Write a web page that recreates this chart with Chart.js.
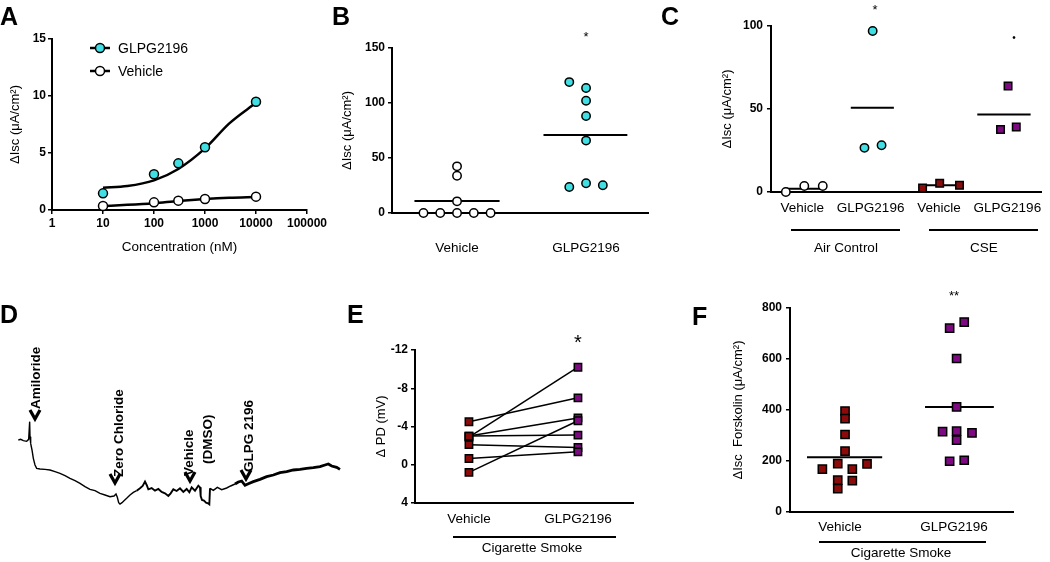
<!DOCTYPE html>
<html><head><meta charset="utf-8">
<script src="https://cdn.jsdelivr.net/npm/chart.js@4.4.1/dist/chart.umd.min.js"></script>
<style>
html,body{margin:0;padding:0;background:#fff;}
body{width:1050px;height:562px;overflow:hidden;position:relative;font-family:"Liberation Sans",Arial,Helvetica,sans-serif;color:#000;}
canvas{position:absolute;left:0;top:0;pointer-events:none;}
.t{position:absolute;white-space:nowrap;line-height:1;}
.c{transform:translate(-50%,-50%);}
.lt{font-weight:bold;font-size:25px;}
.rot{transform-origin:0 0;transform:rotate(-90deg);font-weight:bold;font-size:13.5px;line-height:16px;}
.g{font-size:13.5px;}
svg{position:absolute;left:0;top:0;}
</style></head>
<body>
<canvas id="cA" width="1050" height="562"></canvas>
<canvas id="cB" width="1050" height="562"></canvas>
<canvas id="cC" width="1050" height="562"></canvas>
<canvas id="cD" width="1050" height="562"></canvas>
<canvas id="cE" width="1050" height="562"></canvas>
<canvas id="cF" width="1050" height="562"></canvas>

<svg width="1050" height="562" viewBox="0 0 1050 562">
  <!-- legend A -->
  <line x1="90" y1="48" x2="110" y2="48" stroke="#000" stroke-width="2.5"/>
  <circle cx="100" cy="48" r="4.5" fill="#40dfe3" stroke="#000" stroke-width="1.5"/>
  <line x1="90" y1="71" x2="110" y2="71" stroke="#000" stroke-width="2.5"/>
  <circle cx="100" cy="71" r="4.5" fill="#fff" stroke="#000" stroke-width="1.5"/>
  <!-- chevrons D -->
  <g fill="none" stroke="#000" stroke-width="3.2" stroke-linejoin="miter">
    <path d="M30 410 L35 419 L40 410"/>
    <path d="M110 474 L115 483 L120 474"/>
    <path d="M185 472 L190 481 L195 472"/>
    <path d="M241 470 L246 479 L251 470"/>
  </g>
  <!-- group lines -->
  <g stroke="#000" stroke-width="2">
    <line x1="791" y1="230" x2="900" y2="230"/>
    <line x1="929" y1="230" x2="1038" y2="230"/>
    <line x1="453" y1="537" x2="616" y2="537"/>
    <line x1="819" y1="542" x2="986" y2="542"/>
  </g>
</svg>

<!-- panel letters -->
<div class="t lt" style="left:0px;top:3.5px;">A</div>
<div class="t lt" style="left:332px;top:3.5px;">B</div>
<div class="t lt" style="left:661px;top:3.5px;">C</div>
<div class="t lt" style="left:0px;top:301.5px;">D</div>
<div class="t lt" style="left:347px;top:301.5px;">E</div>
<div class="t lt" style="left:692px;top:304px;">F</div>

<!-- legend A text -->
<div class="t" style="left:118px;top:41px;font-size:14px;">GLPG2196</div>
<div class="t" style="left:118px;top:64px;font-size:14px;">Vehicle</div>

<!-- significance -->
<div class="t c" style="left:586px;top:36px;font-size:13px;">*</div>
<div class="t c" style="left:875px;top:9px;font-size:13px;">*</div>
<div class="t c" style="left:1014px;top:38px;font-size:10px;">•</div>
<div class="t c" style="left:578px;top:342px;font-size:20px;">*</div>
<div class="t c" style="left:954px;top:295px;font-size:13px;">**</div>

<!-- group labels -->
<div class="t c g" style="left:846px;top:248px;">Air Control</div>
<div class="t c g" style="left:984px;top:248px;">CSE</div>
<div class="t c g" style="left:532px;top:548px;">Cigarette Smoke</div>
<div class="t c g" style="left:901px;top:553px;">Cigarette Smoke</div>

<!-- D annotations -->
<div class="t rot" style="left:28px;top:409px;">Amiloride</div>
<div class="t rot" style="left:111px;top:477px;">Zero Chloride</div>
<div class="t rot" style="left:181px;top:476px;">Vehicle</div>
<div class="t rot" style="left:200px;top:464px;">(DMSO)</div>
<div class="t rot" style="left:241px;top:472px;">GLPG 2196</div>

<script>
// ---------- DATA ----------
// Panel A
const concPoints = [10, 100, 300, 1000, 10000];
const glpgA = [1.46, 3.13, 4.09, 5.5, 9.5];
const vehicleA = [0.35, 0.67, 0.82, 0.96, 1.17];
const fitConc = [10, 30, 100, 300, 1000, 3000, 10000];
const fitGlpgA = [1.95, 2.1, 2.6, 3.6, 5.4, 7.6, 9.4];
const fitVehicleA = [0.35, 0.45, 0.6, 0.8, 0.97, 1.08, 1.15];
const xTicksA = [1, 10, 100, 1000, 10000, 100000];
const yTicksA = [0, 5, 10, 15];

// Panel B
const catB = ['Vehicle', 'GLPG2196'];
const vehicleB = [0, 0, 0, 0, 0, 10.6, 33.9, 42.4];
const vehicleBSpread = [-0.26, -0.13, 0, 0.13, 0.26, 0, 0, 0];
const glpgB = [119, 113.6, 102, 88.2, 65.8, 23.6, 27, 25.2];
const glpgBSpread = [-0.13, 0, 0, 0, 0, -0.13, 0, 0.13];
const meansB = [10.9, 70.8];
const yTicksB = [0, 50, 100, 150];

// Panel C
const catC = ['Vehicle', 'GLPG2196', 'Vehicle', 'GLPG2196'];
const airVehicleC = [0, 3.6, 3.6];
const airVehicleCSpread = [-0.24, 0.03, 0.3];
const airGlpgC = [97, 26.6, 28.2];
const airGlpgCSpread = [0.03, -0.09, 0.16];
const cseVehicleC = [2.4, 5.2, 4.0];
const cseVehicleCSpread = [-0.24, 0.01, 0.3];
const cseGlpgC = [63.8, 37.6, 39.2];
const cseGlpgCSpread = [0.01, -0.1, 0.13];
const meansC = [2.0, 50.7, 4.0, 46.7];
const yTicksC = [0, 50, 100];

// Panel D (trace, arbitrary units)
const traceTime = [55,62,70,80,86,89,90,92,96,100,105,110,120,135,150,165,180,195,210,225,240,255,270,285,300,315,330,342,348,352,356,360,366,372,380,390,400,410,420,428,435,440,445,455,465,475,485,495,505,512,520,530,540,550,560,568,575,585,595,600,602,606,612,618,624,628,630,640,652,665,680,692,705,715,725,735,745,760,780,800,820,840,860,880,900,920,940,960,975,985,995,1010,1020];
const traceSignal = [22.0,22.2,21.8,21.6,22.2,27.5,23.0,21.0,19.0,16.5,14.5,13.5,13.3,13.2,13.0,12.5,12.0,11.3,10.5,9.8,9.0,8.0,7.2,6.8,6.0,5.5,5.0,5.2,5.8,4.8,3.2,2.8,3.2,3.8,4.5,5.5,6.3,6.8,7.5,8.2,9.5,8.5,7.2,7.6,6.8,7.3,6.4,6.0,5.2,6.0,7.2,6.7,7.5,6.4,7.3,6.3,7.8,6.8,8.3,7.8,5.2,4.0,3.8,3.2,3.0,2.7,7.5,6.9,7.8,7.1,7.6,8.2,8.8,9.4,9.7,8.4,8.9,9.5,10.2,11.0,11.5,12.2,12.5,13.0,13.2,13.5,13.7,14.0,14.5,14.8,14.2,13.8,13.2];

// Panel E (paired)
const catE = ['Vehicle', 'GLPG2196'];
const vehicleE = [-4.5, -2.9, -3.0, -3.0, -2.1, -0.65, 0.8];
const glpgE = [-7.0, -10.2, -4.9, -3.1, -1.8, -1.35, -4.6];
const yTicksE = [-12, -8, -4, 0, 4];

// Panel F
const catF = ['Vehicle', 'GLPG2196'];
const vehicleF = [396, 366, 304, 239, 168, 190, 168, 189, 125, 92, 123];
const vehicleFSpread = [0.044, 0.044, 0.044, 0.044, -0.155, -0.02, 0.108, 0.237, -0.02, -0.02, 0.108];
const glpgF = [721, 745, 602, 412, 315, 317, 282, 310, 199, 203];
const glpgFSpread = [-0.038, 0.09, 0.023, 0.023, -0.1, 0.023, 0.023, 0.158, -0.038, 0.09];
const meansF = [215, 412];
const yTicksF = [0, 200, 400, 600, 800];

// ---------- STYLE ----------
const W = 1050, H = 562;
const CYAN = '#40dfe3', DRED = '#8b0b0b', PURP = '#7d0a80';
Chart.defaults.font.family = '"Liberation Sans", Arial, Helvetica, sans-serif';
Chart.defaults.color = '#000';

function valueAxis(min, max, ticksArr, title, pad, extra) {
  return Object.assign({
    type: 'linear', min: min, max: max,
    afterBuildTicks: s => { s.ticks = ticksArr.map(v => ({value: v})); },
    ticks: {font: {size: 12, weight: 'bold'}, color: '#000', padding: pad, autoSkip: false},
    grid: {display: true, drawOnChartArea: false, drawTicks: true, tickLength: 4, color: '#000', lineWidth: 1.5},
    border: {display: true, color: '#000', width: 2},
    title: {display: !!title, text: title, font: {size: 13}, color: '#000', padding: 0}
  }, extra || {});
}
function catAxis(min, max, cats, pad) {
  return {
    type: 'linear', min: min, max: max,
    afterBuildTicks: s => { s.ticks = cats.map((c, i) => ({value: i + 1})); },
    ticks: {font: {size: 13.5}, color: '#000', padding: pad, autoSkip: false, maxRotation: 0,
            callback: v => cats[Math.round(v) - 1]},
    grid: {display: false, drawTicks: false, tickLength: 0},
    border: {display: true, color: '#000', width: 2}
  };
}
function mk(id, area, yW, xH, datasets, xs, ys) {
  xs.afterFit = s => { s.height = xH; };
  ys.afterFit = s => { s.width = yW; };
  return new Chart(document.getElementById(id), {
    type: 'scatter',
    data: {datasets: datasets},
    options: {
      responsive: false, animation: false, devicePixelRatio: 1, events: [],
      layout: {padding: {left: area.l - yW, top: area.t, right: W - area.r, bottom: H - area.b - xH}},
      plugins: {legend: {display: false}, tooltip: {enabled: false}},
      scales: {x: xs, y: ys}
    }
  });
}
function pts(vals, center, spread) {
  return vals.map((v, i) => ({x: center + (spread ? spread[i] : 0), y: v}));
}
function markers(data, fill, style, r) {
  return {data: data, pointStyle: style, pointRadius: r, pointBackgroundColor: fill,
          pointBorderColor: '#000', pointBorderWidth: 1.5, showLine: false, clip: false};
}
function meanLine(center, m, a, b) {
  return {data: [{x: center - a, y: m}, {x: center + b, y: m}], showLine: true, pointRadius: 0,
          borderColor: '#000', borderWidth: 2, clip: false};
}

// ---------- A ----------
{
  const xs = {
    type: 'logarithmic', min: 1, max: 100000,
    afterBuildTicks: s => { s.ticks = xTicksA.map(v => ({value: v})); },
    ticks: {font: {size: 12, weight: 'bold'}, color: '#000', padding: 2, autoSkip: false, maxRotation: 0,
            callback: v => String(v)},
    grid: {display: true, drawOnChartArea: false, drawTicks: true, tickLength: 4, color: '#000', lineWidth: 1.5},
    border: {display: true, color: '#000', width: 2},
    title: {display: true, text: 'Concentration (nM)', font: {size: 13.5}, color: '#000', padding: 0}
  };
  const ys = valueAxis(0, 15, yTicksA, 'ΔIsc (μA/cm²)', 2);
  mk('cA', {l: 52, r: 307, t: 39, b: 210}, 44.8, 45.1, [
    markers(concPoints.map((c, i) => ({x: c, y: glpgA[i]})), CYAN, 'circle', 4.5),
    markers(concPoints.map((c, i) => ({x: c, y: vehicleA[i]})), '#fff', 'circle', 4.5),
    {data: fitConc.map((c, i) => ({x: c, y: fitGlpgA[i]})), showLine: true, pointRadius: 0,
     borderColor: '#000', borderWidth: 2.5, cubicInterpolationMode: 'monotone', clip: false},
    {data: fitConc.map((c, i) => ({x: c, y: fitVehicleA[i]})), showLine: true, pointRadius: 0,
     borderColor: '#000', borderWidth: 2.5, cubicInterpolationMode: 'monotone', clip: false}
  ], xs, ys);
}

// ---------- B ----------
mk('cB', {l: 392, r: 648, t: 48, b: 213}, 52.8, 45, [
  markers(pts(vehicleB, 1, vehicleBSpread), '#fff', 'circle', 4.2),
  markers(pts(glpgB, 2, glpgBSpread), CYAN, 'circle', 4.2),
  meanLine(1, meansB[0], 0.33, 0.33),
  meanLine(2, meansB[1], 0.33, 0.32)
], catAxis(0.496, 2.48, catB, 27), valueAxis(0, 150, yTicksB, 'ΔIsc (μA/cm²)', 3));

// ---------- C ----------
mk('cC', {l: 771, r: 1048, t: 26, b: 192}, 51.8, 45, [
  markers(pts(airVehicleC, 1, airVehicleCSpread), '#fff', 'circle', 4.2),
  markers(pts(airGlpgC, 2, airGlpgCSpread), CYAN, 'circle', 4.2),
  markers(pts(cseVehicleC, 3, cseVehicleCSpread), DRED, 'rect', 5.3),
  markers(pts(cseGlpgC, 4, cseGlpgCSpread), PURP, 'rect', 5.3),
  meanLine(1, meansC[0], 0.24, 0.3),
  meanLine(2, meansC[1], 0.29, 0.34),
  meanLine(3, meansC[2], 0.23, 0.34),
  meanLine(4, meansC[3], 0.44, 0.34)
], catAxis(0.543, 4.5, catC, 8), valueAxis(0, 100, yTicksC, 'ΔIsc (μA/cm²)', 4));

// ---------- D ----------
new Chart(document.getElementById('cD'), {
  type: 'scatter',
  data: {datasets: [{
    data: traceTime.map((t, i) => ({x: t, y: traceSignal[i]})),
    showLine: true, pointRadius: 0, borderColor: '#000', borderWidth: 1.4, clip: false,
    segment: {borderWidth: c => (c.p0.parsed.x >= 700 ? 2.8 : (c.p0.parsed.x >= 410 && c.p0.parsed.x < 630 ? 1.9 : 1.4))}
  }]},
  options: {
    responsive: false, animation: false, devicePixelRatio: 1, events: [],
    layout: {padding: {left: 0, top: 413.33, right: W - 350, bottom: H - 513.33}},
    plugins: {legend: {display: false}, tooltip: {enabled: false}},
    scales: {x: {type: 'linear', min: 0, max: 1050, display: false},
             y: {type: 'linear', min: 0, max: 30, display: false}}
  }
});

// ---------- E ----------
{
  const ds = [
    markers(pts(vehicleE, 1), DRED, 'rect', 5.2),
    markers(pts(glpgE, 2), PURP, 'rect', 5.2)
  ];
  vehicleE.forEach((v, i) => {
    ds.push({data: [{x: 1, y: v}, {x: 2, y: glpgE[i]}], showLine: true, pointRadius: 0,
             borderColor: '#000', borderWidth: 1.5, clip: false});
  });
  mk('cE', {l: 415, r: 633, t: 350, b: 503}, 41.8, 45, ds,
     catAxis(0.505, 2.505, catE, 8), valueAxis(-12, 4, yTicksE, 'Δ PD (mV)', 3, {reverse: true}));
}

// ---------- F ----------
mk('cF', {l: 790, r: 1013, t: 308, b: 512}, 59.8, 45, [
  markers(pts(vehicleF, 1, vehicleFSpread), DRED, 'rect', 5.8),
  markers(pts(glpgF, 2, glpgFSpread), PURP, 'rect', 5.8),
  meanLine(1, meansF[0], 0.29, 0.37),
  meanLine(2, meansF[1], 0.254, 0.35)
], catAxis(0.561, 2.518, catF, 7), valueAxis(0, 800, yTicksF, 'ΔIsc  Forskolin (μA/cm²)', 4));
</script>
</body></html>
